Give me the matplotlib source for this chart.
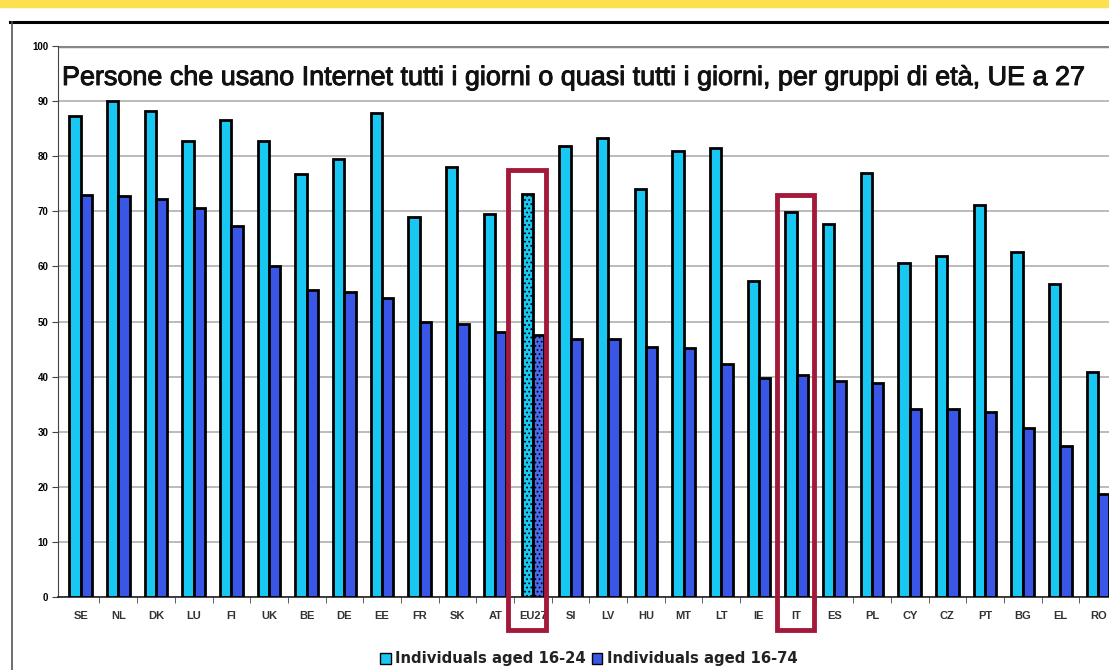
import matplotlib
matplotlib.use("Agg")
import matplotlib.pyplot as plt
from matplotlib.patches import Rectangle
from matplotlib.lines import Line2D
import matplotlib.patheffects as pe
import numpy as np

countries = ["SE", "NL", "DK", "LU", "FI", "UK", "BE", "DE", "EE", "FR", "SK", "AT", "EU27",
             "SI", "LV", "HU", "MT", "LT", "IE", "IT", "ES", "PL", "CY", "CZ", "PT", "BG", "EL", "RO"]
aged_16_24 = [87.3, 90.0, 88.2, 82.8, 86.6, 82.8, 76.8, 79.5, 87.8, 69.0, 78.0, 69.5, 73.1,
              81.9, 83.3, 74.0, 80.9, 81.5, 57.4, 69.9, 67.7, 77.0, 60.6, 61.9, 71.1, 62.6, 56.8, 40.8]
aged_16_74 = [73.0, 72.8, 72.2, 70.6, 67.3, 60.1, 55.7, 55.4, 54.3, 49.9, 49.5, 48.1, 47.5,
              46.8, 46.8, 45.4, 45.2, 42.3, 39.7, 40.3, 39.2, 38.8, 34.1, 34.1, 33.6, 30.7, 27.4, 18.7]
series_labels = ["Individuals aged 16-24", "Individuals aged 16-74"]
title = "Persone che usano Internet tutti i giorni o quasi tutti i giorni, per gruppi di età, UE a 27"
highlight = ["EU27", "IT"]

light = "#19C8F2"
dark = "#3A56E6"
red = "#A3193A"

plt.rcParams['font.family'] = ['Liberation Sans', 'DejaVu Sans']
plt.rcParams['hatch.color'] = 'white'
plt.rcParams['hatch.linewidth'] = 0.8

W, H = 1109, 670
fig = plt.figure(figsize=(W / 100, H / 100), dpi=100)

# decorative frame
fig.patches.append(Rectangle((0, 1 - 7 / H), 1, 7 / H, transform=fig.transFigure,
                             color="#FDE04E", zorder=0))
fig.add_artist(Line2D([10 / W, 1], [1 - 22 / H, 1 - 22 / H], color="black", lw=2.2,
                      transform=fig.transFigure))
fig.add_artist(Line2D([12 / W, 12 / W], [0, 1 - 22 / H], color="#555555", lw=1.2,
                      transform=fig.transFigure))

left_px, right_px = 58, 1117
top_px, bot_px = 46, 597
ax = fig.add_axes([left_px / W, 1 - bot_px / H, (right_px - left_px) / W, (bot_px - top_px) / H])

x = np.arange(len(countries))
bw = 0.3
for i, c in enumerate(countries):
    hatch = '....' if c == "EU27" else None
    ax.bar(x[i] - bw / 2, aged_16_24[i], bw, color=light, edgecolor="black", linewidth=2.0,
           zorder=3, hatch=hatch)
    ax.bar(x[i] + bw / 2, aged_16_74[i], bw, color=dark if c != "EU27" else "#4A6AF0",
           edgecolor="black", linewidth=2.0, zorder=3, hatch=hatch)

ax.set_xlim(-0.6, 27.5)
ax.set_ylim(0, 100)
ax.set_yticks(range(0, 101, 10))
ax.yaxis.grid(True, color="#BBBBBB", lw=1.4, zorder=0)
ax.set_axisbelow(True)
for s in ["right", "top"]:
    ax.spines[s].set_visible(False)
ax.spines["left"].set_color("#444444")
ax.spines["bottom"].set_color("#222222")
ax.spines["bottom"].set_linewidth(1.2)
ax.axhline(100, color="#888888", lw=2.5, zorder=1)

ax.set_xticks(x)
ax.set_xticklabels(countries, fontsize=8, fontweight="bold", color="#333333")
ax.tick_params(axis="x", length=0, pad=10)
ax.set_xticks(x[:-1] + 0.5, minor=True)
ax.tick_params(axis="x", which="minor", length=4, color="#444444")
ax.tick_params(axis="y", length=4, labelsize=7, color="#444444", pad=3)
for lab in ax.get_yticklabels():
    lab.set_fontweight("bold")

# highlight boxes
boxes = {"EU27": (-0.66, 0.36, 77.5), "IT": (-0.53, 0.45, 72.9)}
for c in highlight:
    i = countries.index(c)
    l, r, t = boxes[c]
    ax.add_patch(Rectangle((i + l, -6), r - l, t + 6, fill=False, edgecolor=red, lw=3.5,
                           clip_on=False, zorder=5))

fig.text(62 / W, 1 - 78 / H, title, fontsize=19.4, va="center", ha="left", color="#111111",
         path_effects=[pe.withStroke(linewidth=0.7, foreground="#111111")])

handles = [Rectangle((0, 0), 1, 1, facecolor=light, edgecolor="black", lw=1),
           Rectangle((0, 0), 1, 1, facecolor=dark, edgecolor="black", lw=1)]
leg = fig.legend(handles, series_labels, loc="center", bbox_to_anchor=(589 / W, 1 - 659 / H),
                 ncol=2, frameon=False, prop={"size": 10.7, "weight": "bold", "family": "DejaVu Sans"},
                 handlelength=0.7, handleheight=0.7, handletextpad=0.3, columnspacing=0.4)
for t in leg.get_texts():
    t.set_color("#222222")

fig.savefig("out.png", dpi=100)
